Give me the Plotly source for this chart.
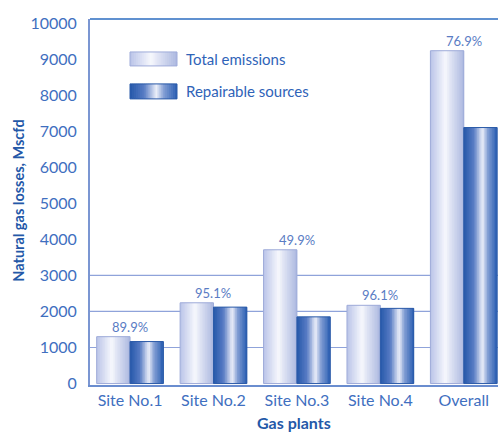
import plotly.graph_objects as go

categories = ["Site No.1", "Site No.2", "Site No.3", "Site No.4", "Overall"]
total_emissions = [1300, 2240, 3710, 2170, 9230]
repairable_sources = [1165, 2120, 1850, 2085, 7100]
pct_labels = ["89.9%", "95.1%", "49.9%", "96.1%", "76.9%"]
y_ticks = [0, 1000, 2000, 3000, 4000, 5000, 6000, 7000, 8000, 9000, 10000]
y_tick_text = ["0", "1000", "2000", "3000", "4000", "5000", "6000", "7000", "8000", "9000", "10000"]
grid_levels = [1000, 2000, 3000]

FONT = "Lato"
TICK_COLOR = "#3f6fc0"
TITLE_COLOR = "#2458a8"

# gradient stops (position, rgb)
light_stops = [(0.0, (186, 196, 232)), (0.45, (247, 248, 253)), (0.58, (226, 230, 245)), (1.0, (172, 184, 224))]
dark_stops = [(0.0, (38, 88, 170)), (0.3, (88, 124, 196)), (0.56, (236, 239, 249)), (0.72, (130, 158, 212)), (1.0, (42, 94, 178))]


def grad_color(stops, t):
    for (p0, c0), (p1, c1) in zip(stops[:-1], stops[1:]):
        if p0 <= t <= p1:
            f = (t - p0) / (p1 - p0) if p1 > p0 else 0
            c = [round(a + (b - a) * f) for a, b in zip(c0, c1)]
            return "rgb(%d,%d,%d)" % tuple(c)
    return "rgb(%d,%d,%d)" % stops[-1][1]


BAR_W = 0.4
N = 20
fig = go.Figure()

# grid lines (behind bars)
for g in grid_levels:
    fig.add_shape(type="line", xref="paper", x0=0, x1=1, yref="y", y0=g, y1=g,
                  line=dict(color="#8fa3da", width=1.2), layer="below")

series = [
    (total_emissions, -BAR_W, light_stops, "#9eabd9"),
    (repairable_sources, 0.0, dark_stops, "#2a5aa8"),
]
for vals, off0, stops, edge in series:
    sw = BAR_W / N
    for i in range(N):
        t = (i + 0.5) / N
        w = min(sw * 1.8, BAR_W - i * sw)
        fig.add_trace(go.Bar(x=categories, y=vals, width=w, offset=off0 + i * sw,
                             marker=dict(color=grad_color(stops, t), line=dict(width=0)),
                             showlegend=False, hoverinfo="skip"))
    fig.add_trace(go.Bar(x=categories, y=vals, width=BAR_W, offset=off0,
                         marker=dict(color="rgba(0,0,0,0)", line=dict(color=edge, width=1)),
                         showlegend=False, hoverinfo="skip"))

# percentage labels above groups
for c, v, p in zip(categories, total_emissions, pct_labels):
    fig.add_annotation(x=c, y=v, text=p, showarrow=False, yshift=10,
                       font=dict(family=FONT, size=13, color="#5a7cc4"))

# top border
fig.add_shape(type="line", xref="paper", x0=0, x1=1, yref="paper", y0=1, y1=1,
              line=dict(color="#2b6cc0", width=1.5))

# custom legend with gradient swatches
PW, PH = 408.0, 366.5
def px_x(x):
    return (x - 90) / PW
def px_y(y):
    return (385.5 - y) / PH

legend_items = [("Total emissions", light_stops, "#9eabd9", 52, 66),
                ("Repairable sources", dark_stops, "#2a5aa8", 84, 99)]
for name, stops, edge, ytop, ybot in legend_items:
    x0, x1 = 130, 177
    M = 24
    for i in range(M):
        t = (i + 0.5) / M
        fig.add_shape(type="rect", xref="paper", yref="paper",
                      x0=px_x(x0 + (x1 - x0) * i / M), x1=px_x(x0 + (x1 - x0) * min(i + 1.8, M) / M),
                      y0=px_y(ybot), y1=px_y(ytop), line=dict(width=0),
                      fillcolor=grad_color(stops, t))
    fig.add_shape(type="rect", xref="paper", yref="paper", x0=px_x(x0), x1=px_x(x1),
                  y0=px_y(ybot), y1=px_y(ytop), line=dict(color=edge, width=1))
    fig.add_annotation(xref="paper", yref="paper", x=px_x(184), y=px_y((ytop + ybot) / 2),
                       xanchor="left", yanchor="middle", text=name, showarrow=False,
                       font=dict(family=FONT, size=15, color="#2f63b8"))

# axis titles
fig.add_annotation(xref="paper", yref="paper", x=px_x(19), y=px_y(201), text="<b>Natural gas losses, Mscfd</b>",
                   textangle=-90, showarrow=False, xanchor="center", yanchor="middle",
                   font=dict(family=FONT, size=14.5, color=TITLE_COLOR))
fig.add_annotation(xref="paper", yref="paper", x=0.5, y=px_y(423), text="<b>Gas plants</b>",
                   showarrow=False, xanchor="center", yanchor="middle",
                   font=dict(family=FONT, size=16, color=TITLE_COLOR))

fig.update_layout(
    width=498, height=432,
    margin=dict(l=90, r=0, t=19, b=46.5),
    barmode="overlay",
    plot_bgcolor="white", paper_bgcolor="white",
    font=dict(family=FONT),
    showlegend=False,
)
fig.update_xaxes(type="category", range=[-0.48, 4.41], showgrid=False, zeroline=False,
                 showline=True, linecolor="#6a8dcf", linewidth=2, ticks="",
                 tickfont=dict(family=FONT, size=16, color=TICK_COLOR), ticklabelstandoff=0)
fig.update_yaxes(range=[-40, 10110], tickvals=y_ticks, ticktext=y_tick_text, showgrid=False, zeroline=False,
                 showline=True, linecolor="#7b96d2", linewidth=2, ticks="",
                 tickfont=dict(family=FONT, size=16, color=TICK_COLOR), ticklabelstandoff=8)

fig.write_html("out.html")
